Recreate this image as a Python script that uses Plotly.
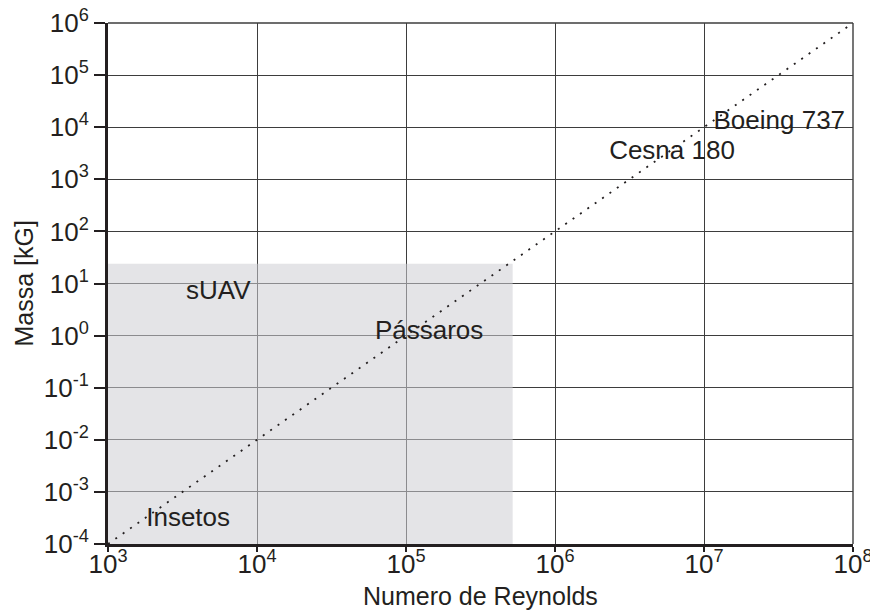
import plotly.graph_objects as go

# Data
x_ticks = [1e3, 1e4, 1e5, 1e6, 1e7, 1e8]
x_ticktext = ["10<sup>3</sup>", "10<sup>4</sup>", "10<sup>5</sup>", "10<sup>6</sup>",
              "10<sup>7</sup>", "10<sup>8</sup>"]
y_ticks = [1e-4, 1e-3, 1e-2, 1e-1, 1e0, 1e1, 1e2, 1e3, 1e4, 1e5, 1e6]
y_ticktext = ["10<sup>-4</sup>", "10<sup>-3</sup>", "10<sup>-2</sup>", "10<sup>-1</sup>",
              "10<sup>0</sup>", "10<sup>1</sup>", "10<sup>2</sup>", "10<sup>3</sup>",
              "10<sup>4</sup>", "10<sup>5</sup>", "10<sup>6</sup>"]

# trend line (Reynolds number vs mass)
trend_re = [1e3, 1e8]
trend_mass = [1e-4, 1e6]

# small-scale region (insects, birds, sUAV)
region_re = [1e3, 5.2e5]
region_mass = [1e-4, 24]

label_names = ["Boeing 737", "Cesna 180", "sUAV", "Pássaros", "Insetos"]
label_re = [3.2e7, 6.1e6, 5.5e3, 1.43e5, 3.45e3]
label_mass = [1.25e4, 3.2e3, 6.7, 1.14, 3.0e-4]

x_title = "Numero de Reynolds"
y_title = "Massa [kG]"

FONT = "Liberation Sans, Arial, Helvetica, sans-serif"
TXT = "#231f20"
GRID = "#3d3d3d"

fig = go.Figure()

# shaded region
fig.add_trace(go.Scatter(
    x=[region_re[0], region_re[1], region_re[1], region_re[0], region_re[0]],
    y=[region_mass[0], region_mass[0], region_mass[1], region_mass[1], region_mass[0]],
    mode="lines", fill="toself", fillcolor="rgba(206,206,210,0.54)",
    line=dict(width=0), hoverinfo="skip", showlegend=False))

# dotted trend line
fig.add_trace(go.Scatter(
    x=trend_re, y=trend_mass, mode="lines",
    line=dict(color="#231f20", width=1.8, dash="2px,7px"),
    showlegend=False, hoverinfo="skip"))

# labels
fig.add_trace(go.Scatter(
    x=label_re, y=label_mass, mode="text", text=label_names,
    textfont=dict(family=FONT, size=26, color=TXT),
    textposition="middle center", showlegend=False, hoverinfo="skip"))

fig.update_xaxes(
    type="log", range=[3, 8], automargin=False,
    tickvals=x_ticks, ticktext=x_ticktext,
    showgrid=True, gridcolor=GRID, gridwidth=1.4,
    showline=True, linecolor="#231f20", linewidth=3,
    ticks="outside", ticklen=5, tickwidth=2, tickcolor="#231f20",
    tickfont=dict(family=FONT, size=26, color=TXT),
    ticklabeloverflow="allow", ticklabelstandoff=-10,
    zeroline=False,
)
fig.update_yaxes(
    type="log", range=[-4, 6], automargin=False,
    tickvals=y_ticks, ticktext=y_ticktext,
    showgrid=True, gridcolor=GRID, gridwidth=1.4,
    showline=True, linecolor="#231f20", linewidth=3,
    ticks="outside", ticklen=11, tickwidth=2, tickcolor="#231f20",
    tickfont=dict(family=FONT, size=26, color=TXT),
    ticklabeloverflow="allow",
    zeroline=False,
)

# thin border lines at the top and right edges (grid lines at 10^6 and 10^8)
fig.add_shape(type="line", xref="paper", yref="paper", x0=0, x1=1, y0=1, y1=1,
              line=dict(color=GRID, width=1.4), layer="below")
fig.add_shape(type="line", xref="paper", yref="paper", x0=1, x1=1, y0=0, y1=1,
              line=dict(color=GRID, width=1.4), layer="below")

fig.add_annotation(text=x_title, xref="paper", yref="paper", x=0.5, y=-0.1,
                   xanchor="center", yanchor="middle", showarrow=False,
                   font=dict(family=FONT, size=25, color=TXT))
fig.add_annotation(text=y_title, xref="paper", yref="paper", x=-0.114, y=0.5,
                   xanchor="center", yanchor="middle", showarrow=False, textangle=-90,
                   font=dict(family=FONT, size=25, color=TXT))

fig.update_layout(
    width=870, height=612,
    margin=dict(l=108, r=17, t=23, b=68),
    plot_bgcolor="white", paper_bgcolor="white",
    showlegend=False,
)

fig.write_html("out.html")
